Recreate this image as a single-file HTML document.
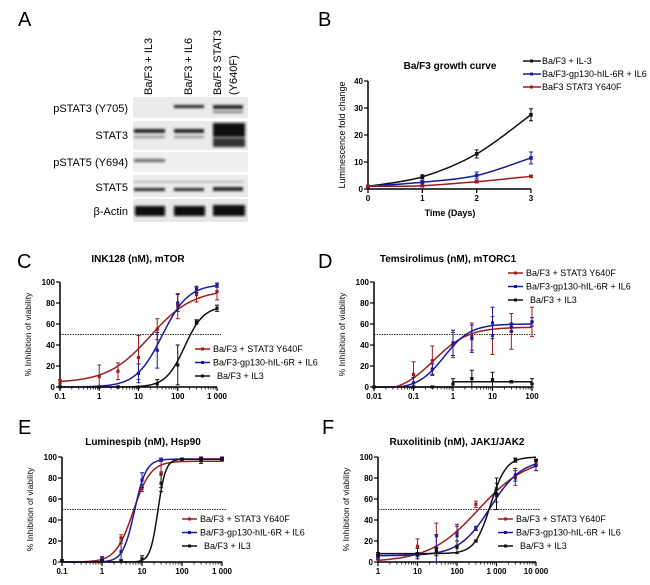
<!DOCTYPE html>
<html><head><meta charset="utf-8"><style>
html,body{margin:0;padding:0;background:#fff}
svg{display:block;font-family:"Liberation Sans",Arial,sans-serif}
</style></head><body>
<svg id="fig" width="650" height="585" viewBox="0 0 650 585" xmlns="http://www.w3.org/2000/svg">
<defs><filter id="blur" x="-20%" y="-50%" width="140%" height="200%"><feGaussianBlur stdDeviation="1.2"/></filter>
<filter id="blur2"><feGaussianBlur stdDeviation="2"/></filter></defs>
<rect width="650" height="585" fill="#fff"/>
<g>
<text x="18" y="26" font-size="20">A</text>
<text transform="translate(152,95) rotate(-90)" font-size="11">Ba/F3 + IL3</text>
<text transform="translate(192,95) rotate(-90)" font-size="11">Ba/F3 + IL6</text>
<text transform="translate(221,95) rotate(-90)" font-size="11">Ba/F3 STAT3</text>
<text transform="translate(237,95) rotate(-90)" font-size="11">(Y640F)</text>
<text x="128" y="112" font-size="11" text-anchor="end">pSTAT3 (Y705)</text>
<text x="128" y="139" font-size="11" text-anchor="end">STAT3</text>
<text x="128" y="166" font-size="11" text-anchor="end">pSTAT5 (Y694)</text>
<text x="128" y="191" font-size="11" text-anchor="end">STAT5</text>
<text x="128" y="215" font-size="11" text-anchor="end">β-Actin</text>
<rect x="133" y="97" width="115" height="21" fill="#ececec"/>
<rect x="133" y="121" width="115" height="29" fill="#ebebeb"/>
<rect x="133" y="152" width="115" height="20" fill="#efefef"/>
<rect x="133" y="175" width="115" height="22" fill="#ececec"/>
<rect x="133" y="199" width="115" height="23" fill="#e8e8e8"/>
<g filter="url(#blur)" fill="#222">
<rect x="174" y="105" width="30" height="3"/>
<rect x="213" y="105" width="30" height="4"/>
<rect x="213" y="111" width="30" height="2" fill="#777"/>
<rect x="134" y="129" width="31" height="4"/>
<rect x="134" y="136" width="31" height="2" fill="#888"/>
<rect x="174" y="129" width="30" height="4"/>
<rect x="174" y="136" width="30" height="2" fill="#888"/>
<rect x="213" y="123" width="32" height="14" fill="#111"/>
<rect x="213" y="138" width="32" height="9" fill="#333"/>
<rect x="134" y="159" width="31" height="3" fill="#666"/>
<rect x="134" y="188" width="31" height="3"/>
<rect x="174" y="188" width="30" height="3"/>
<rect x="213" y="187" width="30" height="4"/>
<rect x="134" y="181" width="110" height="1.5" fill="#aaa"/>
<rect x="135" y="206" width="30" height="10" fill="#111"/>
<rect x="174" y="206" width="31" height="10" fill="#111"/>
<rect x="213" y="205" width="32" height="11" fill="#111"/>
</g>
</g>
<text x="318" y="26" font-size="20">B</text>
<text x="17" y="268" font-size="20">C</text>
<text x="318" y="268" font-size="20">D</text>
<text x="18" y="434" font-size="20">E</text>
<text x="322" y="434" font-size="20">F</text>
</svg>
<script>
const NS="http://www.w3.org/2000/svg";
const svg=document.getElementById('fig');
function mk(tag,attrs,parent){const e=document.createElementNS(NS,tag);for(const k in attrs)e.setAttribute(k,attrs[k]);(parent||svg).appendChild(e);return e;}
const RED="#a01c1c",BLUE="#1a1aa0",BLACK="#111";

// ===== Panel B data =====
const bDays=[0,1,2,3];
const bIL3=[1,4.5,13,27.5];
const bIL6=[1,2.5,5,11.5];
const bY640F=[1,1.2,2.7,4.7];
const bIL3Err=[0.3,0.8,1.5,2.2];
const bIL6Err=[0.2,0.6,1.3,2.2];
const bY640FErr=[0.1,0.2,0.3,0.3];
const bYTicks=[0,10,20,30,40];
const bLegend=["Ba/F3 + IL-3","Ba/F3-gp130-hIL-6R + IL6","BaF3 STAT3 Y640F"];

// ===== Dose-response data =====
const cDoses=[0.1,1,3,10,30,100,300,1000];
const cRed=[5,10,15,28,55,77,88,91];
const cBlue=[0,0,0,13,35,80,93,97];
const cBlack=[0,0,0,0,3,21,62,75];
const cRedErr=[2,11,8,21,10,12,7,8];
const cBlueErr=[1,1,1,9,17,8,3,2];
const cBlackErr=[1,1,1,1,4,19,2,3];
const cRedFit=[4,93,20,0.8];
const cBlueFit=[0,98,40,1.3];
const cBlackFit=[0,77,150,1.8];
const cXTicks=["0.1","1","10","100","1 000"];

const dDoses=[0.01,0.1,0.3,1,3,10,30,100];
const dRed=[0,12,25,40,48,49,53,62];
const dBlue=[0,4,17,42,46,61,57,62];
const dBlack=[0,0,0,3,8,7,5,3];
const dRedErr=[0,12,14,12,13,18,17,14];
const dBlueErr=[0,5,5,12,13,15,4,4];
const dBlackErr=[0,1,1,5,8,7,1,5];
const dRedFit=[-6,57,0.33,1.0];
const dBlueFit=[-2,60,0.6,1.3];
const dBlackLevel=[0,5];
const dXTicks=["0.01","0.1","1","10","100"];

const eDoses=[0.1,1,3,10,30,100,300,1000];
const eRed=[1,3,23,70,85,98,97,97];
const eBlue=[1,3,10,78,97,98,98,99];
const eBlack=[1,1,1,3,75,98,97,98];
const eRedErr=[1,2,3,3,14,1,3,1];
const eBlueErr=[1,2,8,7,1,1,1,1];
const eBlackErr=[1,1,1,3,8,1,3,1];
const eRedFit=[0,96,6,2];
const eBlueFit=[0,98,6.5,3];
const eBlackFit=[0,98,25,4.5];
const eXTicks=["0.1","1","10","100","1 000"];

const fDoses=[1,10,30,100,300,1000,3000,10000];
const fRed=[4,15,25,28,55,70,80,95];
const fBlue=[5,7,12,25,32,63,83,92];
const fBlack=[7,8,10,14,20,65,97,97];
const fRedErr=[2,7,12,8,3,5,7,3];
const fBlueErr=[2,2,14,9,2,6,6,5];
const fBlackErr=[2,5,4,6,1,15,2,1];
const fRedFit=[0,100,350,0.7];
const fBlueFit=[6,98,700,1.1];
const fBlackFit=[8,100,700,2.2];
const fXTicks=["1","10","100","1 000","10 000"];

const yTicks=[0,20,40,60,80,100];
const drLegend=["Ba/F3 + STAT3 Y640F","Ba/F3-gp130-hIL-6R + IL6","Ba/F3 + IL3"];

// ===== Panel B render =====
(function(){
  const g=mk('g',{});
  
  
  const x0=368,x1=531,yb=189,yt=81;
  const sx=d=>x0+(d-bDays[0])/(3-0)*(x1-x0);
  const sy=v=>yb-(v/40)*(yb-yt);
  const t=mk('text',{x:450,y:69,'font-size':10,'font-weight':'bold','text-anchor':'middle'},g);t.textContent="Ba/F3 growth curve";
  
  const ya=mk('line',{x1:x0,y1:yt,x2:x0,y2:yb,stroke:'#000','stroke-width':1.5},g);
  
  const xa=mk('line',{x1:x0,y1:yb,x2:x1,y2:yb,stroke:'#000','stroke-width':1.5},g);
  
  bYTicks.forEach(v=>{mk('line',{x1:x0-4,y1:sy(v),x2:x0,y2:sy(v),stroke:'#000','stroke-width':1.2},g);
    const l=mk('text',{x:x0-5,y:sy(v)+3,'font-size':8,'font-weight':'bold','text-anchor':'end'},g);l.textContent=v;
    });
  bDays.forEach(d=>{mk('line',{x1:sx(d),y1:yb,x2:sx(d),y2:yb+4,stroke:'#000','stroke-width':1.2},g);
    const l=mk('text',{x:sx(d),y:yb+12,'font-size':8,'font-weight':'bold','text-anchor':'middle'},g);l.textContent=d;
    });
  const xt=mk('text',{x:450,y:216,'font-size':9,'font-weight':'bold','text-anchor':'middle'},g);xt.textContent="Time (Days)";
  
  const yl=mk('text',{transform:'translate(345,135) rotate(-90)','font-size':9,'text-anchor':'middle'},g);yl.textContent="Luminescence fold change";
  
  const series=[[bIL3,bIL3Err,BLACK],[bIL6,bIL6Err,BLUE],[bY640F,bY640FErr,RED]];
  series.forEach((s,i)=>{
    const [vals,err,col]=s;
    // smooth curve: quadratic through points via Catmull-Rom
    const pts=bDays.map((d,j)=>[sx(d),sy(vals[j])]);
    let p="M"+pts[0][0]+","+pts[0][1];
    for(let j=0;j<pts.length-1;j++){const p0=pts[Math.max(0,j-1)],p1=pts[j],p2=pts[j+1],p3=pts[Math.min(pts.length-1,j+2)];
      p+=` C${p1[0]+(p2[0]-p0[0])/6},${p1[1]+(p2[1]-p0[1])/6} ${p2[0]-(p3[0]-p1[0])/6},${p2[1]-(p3[1]-p1[1])/6} ${p2[0]},${p2[1]}`;}
    const c=mk('path',{d:p,fill:'none',stroke:col,'stroke-width':1.5},g);
    
    bDays.forEach((d,j)=>{
      const x=sx(d),y=sy(vals[j]);
      mk('path',{d:`M${x},${sy(vals[j]-err[j])}V${sy(vals[j]+err[j])}M${x-2},${sy(vals[j]-err[j])}h4M${x-2},${sy(vals[j]+err[j])}h4`,stroke:col,'stroke-width':1,fill:'none'},g);
      const m=mk('rect',{x:x-1.8,y:y-1.8,width:3.6,height:3.6,fill:col},g);
      
    });
    const ly=61+i*13;
    mk('line',{x1:523,y1:ly,x2:541,y2:ly,stroke:col,'stroke-width':1.5},g);
    mk('rect',{x:530,y:ly-1.5,width:3,height:3,fill:col},g);
    const lt=mk('text',{x:542,y:ly+3,'font-size':9},g);lt.textContent=bLegend[i];
    
  });
})();

// ===== Dose-response render =====
function hill(x,f){return f[0]+(f[1]-f[0])/(1+Math.pow(f[2]/x,f[3]));}
function drPanel(o){
  const g=mk('g',{});
  
  
  const lmin=Math.log10(o.xmin),lmax=Math.log10(o.xmax);
  const sx=v=>o.x0+(Math.log10(v)-lmin)/(lmax-lmin)*(o.x1-o.x0);
  const sy=v=>o.yb-(v/100)*(o.yb-o.yt);
  const t=mk('text',{x:o.tx,y:o.ty,'font-size':10,'font-weight':'bold','text-anchor':'middle'},g);t.textContent=o.title;
  
  const yl=mk('text',{transform:`translate(${o.x0-29},${(o.yt+o.yb)/2}) rotate(-90)`,'font-size':8.5,'text-anchor':'middle'},g);yl.textContent="% Inhibition of viability";
  
  const ya=mk('line',{x1:o.x0,y1:o.yt,x2:o.x0,y2:o.yb,stroke:'#000','stroke-width':1.5},g);
  
  const xa=mk('line',{x1:o.x0,y1:o.yb,x2:o.x1,y2:o.yb,stroke:'#000','stroke-width':1.5},g);
  
  yTicks.forEach(v=>{mk('line',{x1:o.x0-4,y1:sy(v),x2:o.x0,y2:sy(v),stroke:'#000','stroke-width':1.2},g);
    const l=mk('text',{x:o.x0-5,y:sy(v)+3,'font-size':8,'font-weight':'bold','text-anchor':'end'},g);l.textContent=v;
    });
  for(let e=lmin;e<=lmax;e++){
    const x=sx(Math.pow(10,e));
    mk('line',{x1:x,y1:o.yb,x2:x,y2:o.yb+4,stroke:'#000','stroke-width':1.2},g);
    const l=mk('text',{x:x,y:o.yb+12,'font-size':8,'font-weight':'bold','text-anchor':'middle'},g);l.textContent=o.xticks[e-lmin];
    
    if(e<lmax)for(let k=2;k<10;k++){const xm=sx(k*Math.pow(10,e));mk('line',{x1:xm,y1:o.yb,x2:xm,y2:o.yb+2.5,stroke:'#000','stroke-width':0.8},g);}
  }
  const ref=mk('line',{x1:o.x0,y1:sy(50),x2:o.x1+4,y2:sy(50),stroke:'#333','stroke-width':1,'stroke-dasharray':'1.5,1'},g);
  
  const cols=[RED,BLUE,BLACK];
  o.series.forEach((s,i)=>{
    const col=cols[i];
    let d="";
    if(s.fit){
      for(let k=0;k<=160;k++){const lx=lmin+(lmax-lmin)*k/160;const xv=Math.pow(10,lx);let v=hill(xv,s.fit);if(v<0)v=0;d+=(k?"L":"M")+sx(xv).toFixed(2)+","+sy(v).toFixed(2);}
    }else{
      d=`M${sx(o.xmin)},${sy(s.level[0])}H${sx(1)}V${sy(s.level[1])}H${sx(o.xmax)}`;
    }
    const c=mk('path',{d:d,fill:'none',stroke:col,'stroke-width':1.5},g);
    
    o.doses.forEach((x0,j)=>{
      const x=sx(x0),v=s.vals[j],er=s.err[j];
      mk('path',{d:`M${x},${sy(Math.max(0,v-er))}V${sy(v+er)}M${x-2},${sy(v+er)}h4M${x-2},${sy(Math.max(0,v-er))}h4`,stroke:col,'stroke-width':1,fill:'none'},g);
      const m=mk('rect',{x:x-1.6,y:sy(v)-1.6,width:3.2,height:3.2,fill:col},g);
      
    });
    const ly=o.ly+i*13.5;
    mk('line',{x1:o.lx,y1:ly,x2:o.lx+15,y2:ly,stroke:col,'stroke-width':1.5},g);
    mk('rect',{x:o.lx+6,y:ly-1.5,width:3,height:3,fill:col},g);
    const lt=mk('text',{x:o.lx+(i==2?22:18),y:ly+3,'font-size':9},g);lt.textContent=drLegend[i];
    
  });
}
drPanel({name:'panel-c-ink128',title:'INK128 (nM), mTOR',tx:138,ty:262,x0:60,x1:217,yt:282,yb:387,xmin:0.1,xmax:1000,xticks:cXTicks,doses:cDoses,lx:195,ly:349,
  series:[{vals:cRed,err:cRedErr,fit:cRedFit},{vals:cBlue,err:cBlueErr,fit:cBlueFit},{vals:cBlack,err:cBlackErr,fit:cBlackFit}]});
drPanel({name:'panel-d-temsirolimus',title:'Temsirolimus (nM), mTORC1',tx:448,ty:262,x0:374,x1:532,yt:282,yb:387,xmin:0.01,xmax:100,xticks:dXTicks,doses:dDoses,lx:508,ly:273,
  series:[{vals:dRed,err:dRedErr,fit:dRedFit},{vals:dBlue,err:dBlueErr,fit:dBlueFit},{vals:dBlack,err:dBlackErr,level:dBlackLevel}]});
drPanel({name:'panel-e-luminespib',title:'Luminespib (nM), Hsp90',tx:143,ty:445,x0:62,x1:222,yt:457,yb:562,xmin:0.1,xmax:1000,xticks:eXTicks,doses:eDoses,lx:182,ly:519,
  series:[{vals:eRed,err:eRedErr,fit:eRedFit},{vals:eBlue,err:eBlueErr,fit:eBlueFit},{vals:eBlack,err:eBlackErr,fit:eBlackFit}]});
drPanel({name:'panel-f-ruxolitinib',title:'Ruxolitinib (nM), JAK1/JAK2',tx:457,ty:445,x0:378,x1:536,yt:457,yb:562,xmin:1,xmax:10000,xticks:fXTicks,doses:fDoses,lx:498,ly:519,
  series:[{vals:fRed,err:fRedErr,fit:fRedFit},{vals:fBlue,err:fBlueErr,fit:fBlueFit},{vals:fBlack,err:fBlackErr,fit:fBlackFit}]});
</script>
</body></html>
